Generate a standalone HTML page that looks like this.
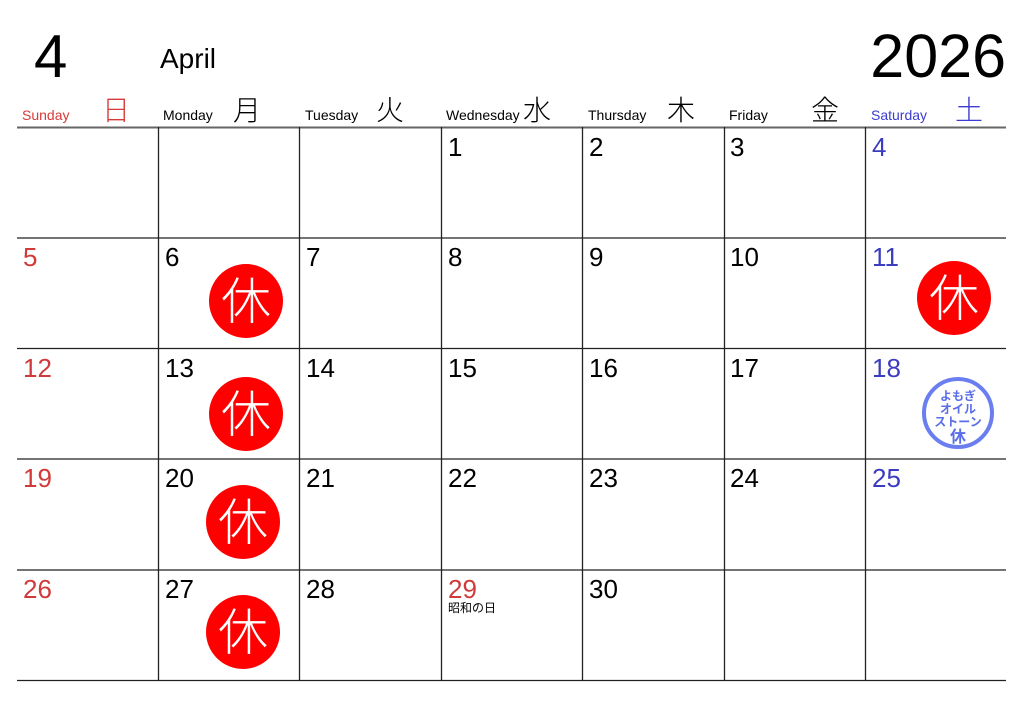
<!DOCTYPE html>
<html><head><meta charset="utf-8"><style>
html,body{margin:0;padding:0;background:#fff;}
svg{display:block;font-family:"Liberation Sans","Noto Sans CJK JP",sans-serif;}
.jp{font-family:"Noto Sans CJK JP",sans-serif;}
</style></head><body>
<svg width="1024" height="722" xmlns="http://www.w3.org/2000/svg">
<rect width="1024" height="722" fill="#fff"/>
<text x="34" y="77" font-size="60" fill="#000">4</text>
<text x="160" y="68" font-size="28" fill="#000">April</text>
<text x="1006" y="77" font-size="61" fill="#000" text-anchor="end">2026</text>
<g font-size="14">
<text x="22" y="120" fill="#d83a3a">Sunday</text>
<text x="163" y="120">Monday</text>
<text x="305" y="120">Tuesday</text>
<text x="446" y="120">Wednesday</text>
<text x="588" y="120">Thursday</text>
<text x="729" y="120">Friday</text>
<text x="871" y="120" fill="#3c3cd0">Saturday</text>
</g>
<g font-size="28" text-anchor="middle" font-weight="300" class="jp">
<text x="116" y="120" fill="#d83a3a">日</text>
<text x="247" y="120">月</text>
<text x="390" y="120">火</text>
<text x="537" y="120">水</text>
<text x="681" y="120">木</text>
<text x="825" y="120">金</text>
<text x="969" y="120" fill="#3c3cd0">土</text>
</g>
<line x1="17" y1="127.5" x2="1006" y2="127.5" stroke="#666" stroke-width="2"/>
<g stroke="#222" stroke-width="1.3">
<line x1="17" y1="238" x2="1006" y2="238"/>
<line x1="17" y1="348.5" x2="1006" y2="348.5"/>
<line x1="17" y1="459" x2="1006" y2="459"/>
<line x1="17" y1="570" x2="1006" y2="570"/>
<line x1="17" y1="680.5" x2="1006" y2="680.5"/>
<line x1="158.5" y1="127" x2="158.5" y2="681"/>
<line x1="299.5" y1="127" x2="299.5" y2="681"/>
<line x1="441.5" y1="127" x2="441.5" y2="681"/>
<line x1="582.5" y1="127" x2="582.5" y2="681"/>
<line x1="724.5" y1="127" x2="724.5" y2="681"/>
<line x1="865.5" y1="127" x2="865.5" y2="681"/>
</g>
<g font-size="26">
<text x="448" y="156">1</text><text x="589" y="156">2</text><text x="730" y="156">3</text><text x="872" y="156" fill="#3c3cc0">4</text>
<text x="23" y="266" fill="#d03a3a">5</text><text x="165" y="266">6</text><text x="306" y="266">7</text><text x="448" y="266">8</text><text x="589" y="266">9</text><text x="730" y="266">10</text><text x="872" y="266" fill="#3c3cc0">11</text>
<text x="23" y="377" fill="#d03a3a">12</text><text x="165" y="377">13</text><text x="306" y="377">14</text><text x="448" y="377">15</text><text x="589" y="377">16</text><text x="730" y="377">17</text><text x="872" y="377" fill="#3c3cc0">18</text>
<text x="23" y="487" fill="#d03a3a">19</text><text x="165" y="487">20</text><text x="306" y="487">21</text><text x="448" y="487">22</text><text x="589" y="487">23</text><text x="730" y="487">24</text><text x="872" y="487" fill="#3c3cc0">25</text>
<text x="23" y="598" fill="#d03a3a">26</text><text x="165" y="598">27</text><text x="306" y="598">28</text><text x="448" y="598" fill="#d03a3a">29</text><text x="589" y="598">30</text>
</g>
<text x="448" y="612" font-size="12" class="jp">昭和の日</text>
<g>
<circle cx="246" cy="301" r="37" fill="#f00"/>
<circle cx="954" cy="298" r="37" fill="#f00"/>
<circle cx="246" cy="414" r="37" fill="#f00"/>
<circle cx="243" cy="522" r="37" fill="#f00"/>
<circle cx="243" cy="632" r="37" fill="#f00"/>
</g>
<g fill="#fff" font-size="50" text-anchor="middle" class="jp" font-weight="300">
<text x="246" y="319">休</text>
<text x="954" y="316">休</text>
<text x="246" y="432">休</text>
<text x="243" y="540">休</text>
<text x="243" y="650">休</text>
</g>
<circle cx="958" cy="413" r="34" fill="#fff" stroke="#6a7ef0" stroke-width="4"/>
<g fill="#5a6ee8" font-size="12" font-weight="bold" text-anchor="middle" class="jp">
<text x="958" y="400">よもぎ</text>
<text x="958" y="413">オイル</text>
<text x="958" y="426">ストーン</text>
<text x="958" y="442" font-size="16">休</text>
</g>
</svg>
</body></html>
